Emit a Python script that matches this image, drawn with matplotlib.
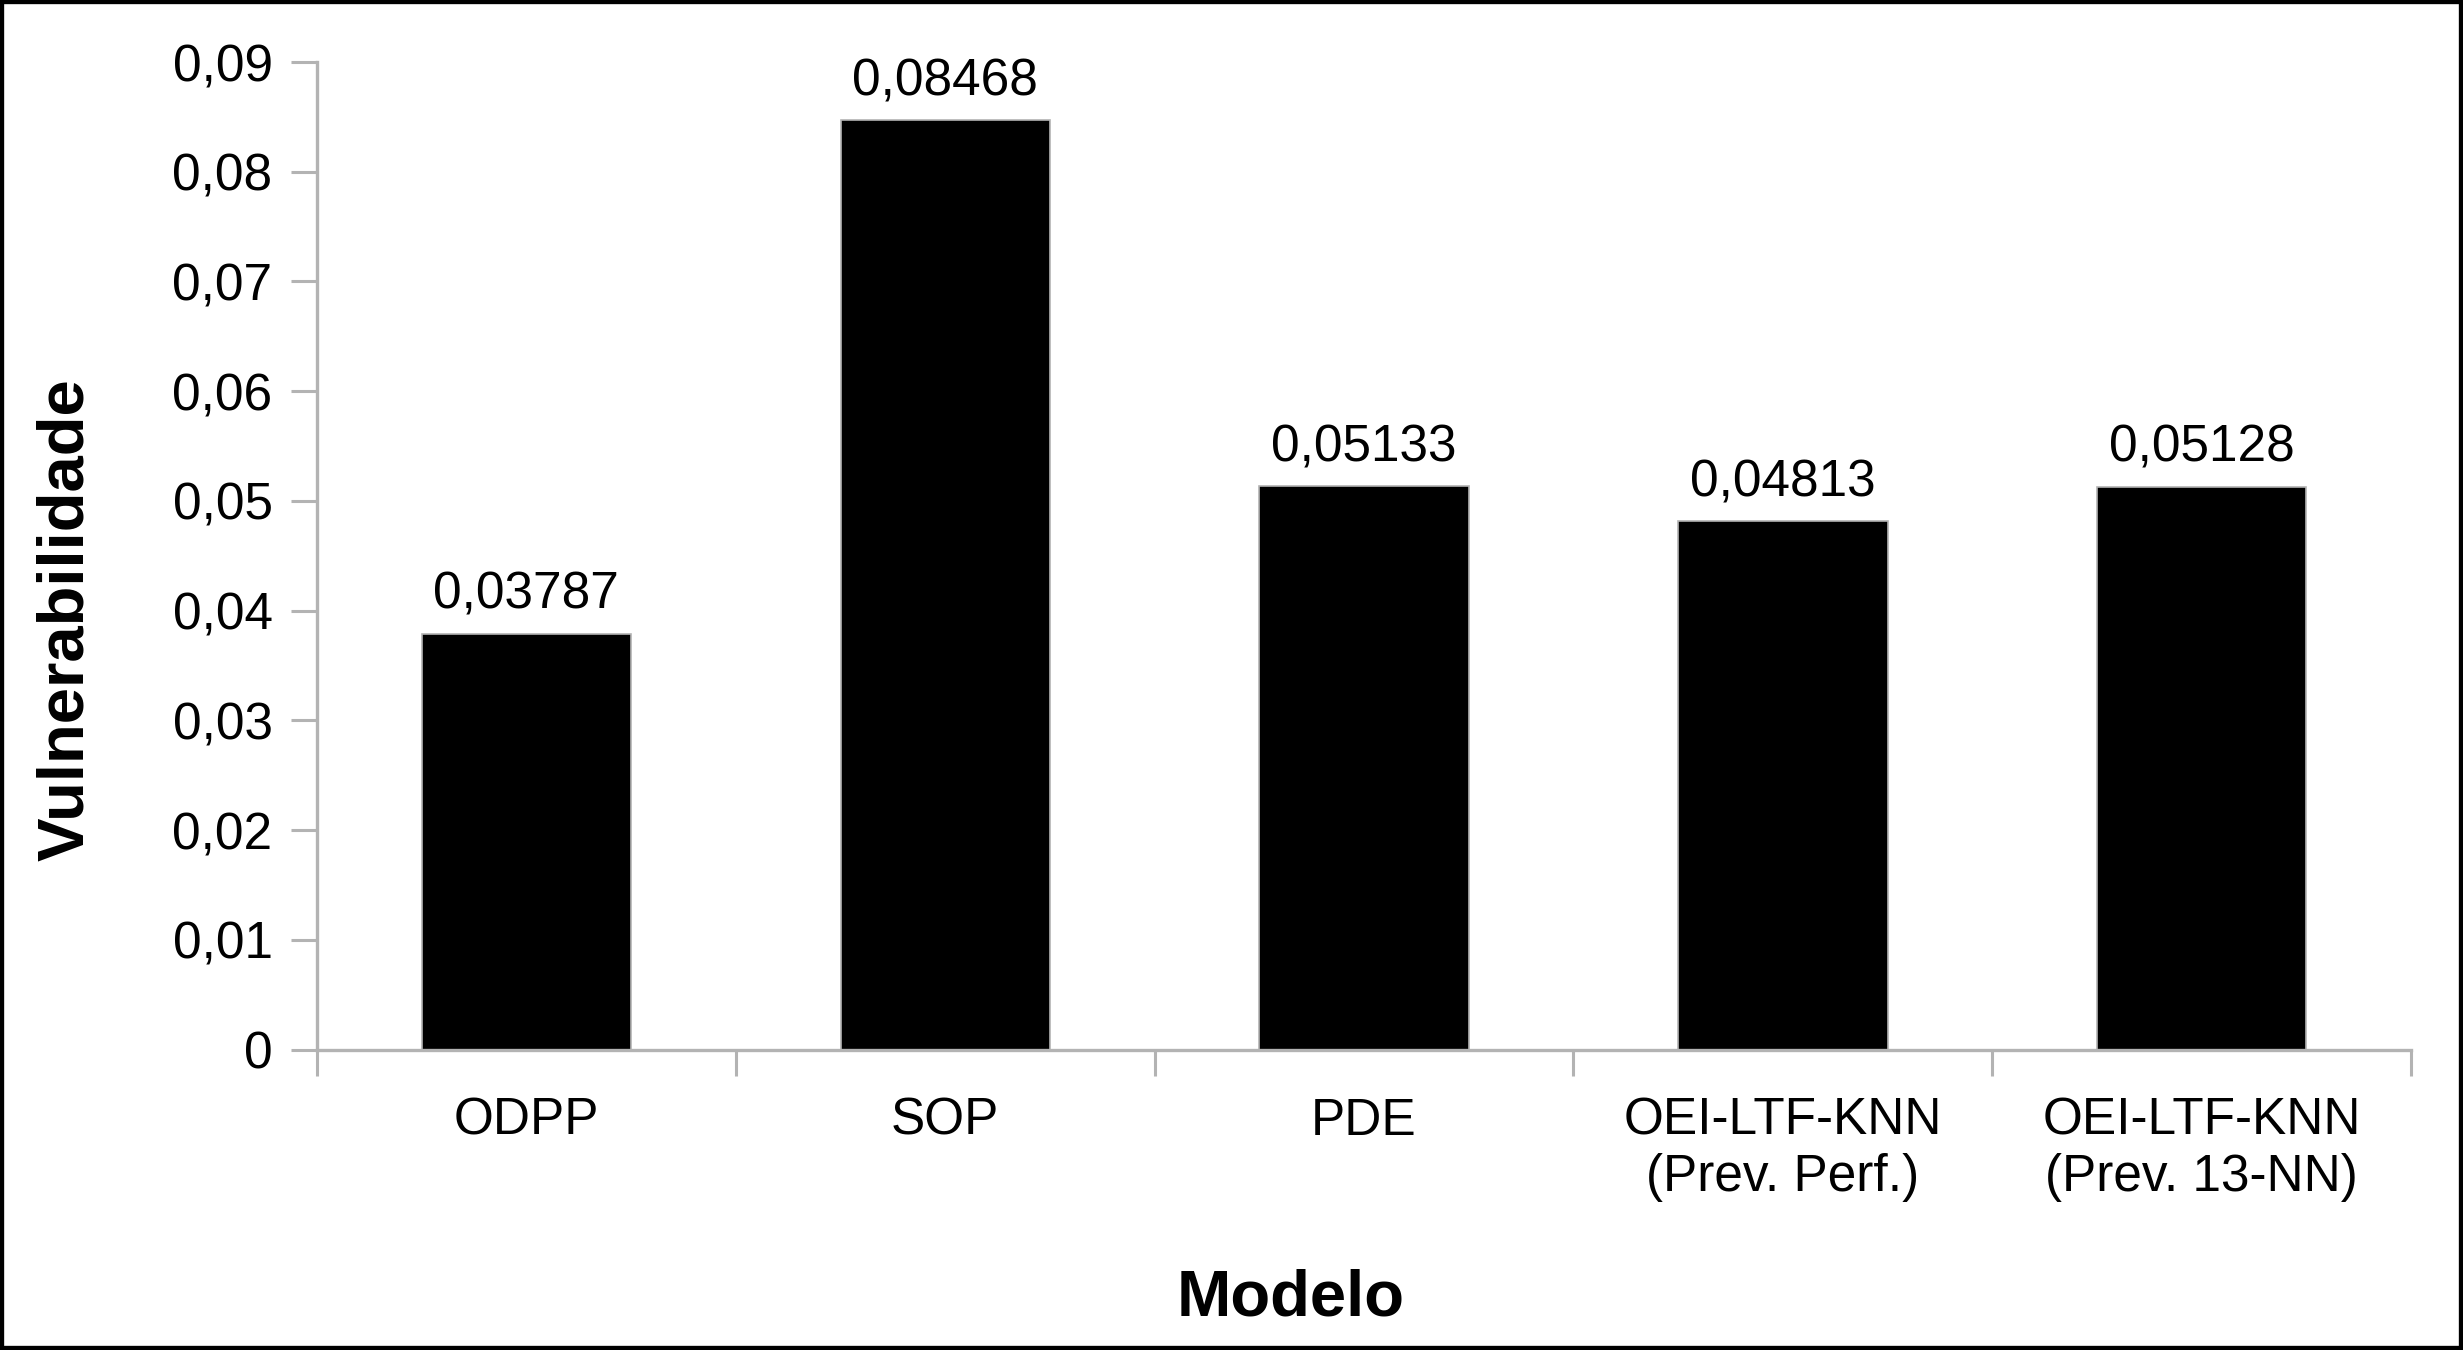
import matplotlib
matplotlib.use("Agg")
import matplotlib.pyplot as plt
from matplotlib.patches import Rectangle
from matplotlib.ticker import FixedLocator, FuncFormatter

categories = ["ODPP", "SOP", "PDE", "OEI-LTF-KNN\n(Prev. Perf.)", "OEI-LTF-KNN\n(Prev. 13-NN)"]
values = [0.03787, 0.08468, 0.05133, 0.04813, 0.05128]
value_labels = ["0,03787", "0,08468", "0,05133", "0,04813", "0,05128"]
yticks = [0, 0.01, 0.02, 0.03, 0.04, 0.05, 0.06, 0.07, 0.08, 0.09]
ytick_labels = ["0", "0,01", "0,02", "0,03", "0,04", "0,05", "0,06", "0,07", "0,08", "0,09"]

plt.rcParams['font.family'] = ['Liberation Sans', 'DejaVu Sans']

W, H = 2463, 1350
fig = plt.figure(figsize=(W / 100, H / 100), dpi=100)
ax = fig.add_axes([317 / W, 1 - 1049.5 / H, (2411 - 317) / W, (1049.5 - 62) / H])

grey = "#b3b3b3"
x = list(range(len(categories)))
ax.bar(x, values, width=0.5, color="black", edgecolor=grey, linewidth=1.2, zorder=2)

ax.set_xlim(-0.5, len(categories) - 0.5)
ax.set_ylim(0, 0.09)

for xi, v, lab in zip(x, values, value_labels):
    ax.annotate(lab, (xi, v), xytext=(0, 18), textcoords="offset points",
                ha="center", va="baseline", fontsize=37, color="black")

ax.set_yticks(yticks)
ax.set_yticklabels(ytick_labels)
ax.tick_params(axis="y", length=19, width=2.2, color=grey, pad=13, labelsize=37, direction="out")

# category boundaries as major ticks, labels at centers via minor ticks
ax.xaxis.set_major_locator(FixedLocator([i - 0.5 for i in range(len(categories) + 1)]))
ax.xaxis.set_major_formatter(FuncFormatter(lambda v, p: ""))
ax.xaxis.set_minor_locator(FixedLocator(x))
ax.set_xticklabels(categories, minor=True)
ax.tick_params(axis="x", which="major", length=19, width=2.2, color=grey, direction="out")
ax.tick_params(axis="x", which="minor", length=0, pad=34, labelsize=37)

for s in ["top", "right"]:
    ax.spines[s].set_visible(False)
for s in ["left", "bottom"]:
    ax.spines[s].set_color(grey)
    ax.spines[s].set_linewidth(2.4)
    ax.spines[s].set_zorder(3)

fig.text(1291 / W, 1 - 1298 / H, "Modelo", ha="center", va="center",
         fontsize=47, fontweight="bold")
fig.text(66 / W, 1 - 620 / H, "Vulnerabilidade", ha="center", va="center",
         rotation=90, fontsize=47, fontweight="bold")

fig.patches.append(Rectangle((0, 0), 1, 1, transform=fig.transFigure, fill=False,
                             edgecolor="black", linewidth=6, zorder=10))

fig.savefig("out.png", dpi=100, facecolor="white")
